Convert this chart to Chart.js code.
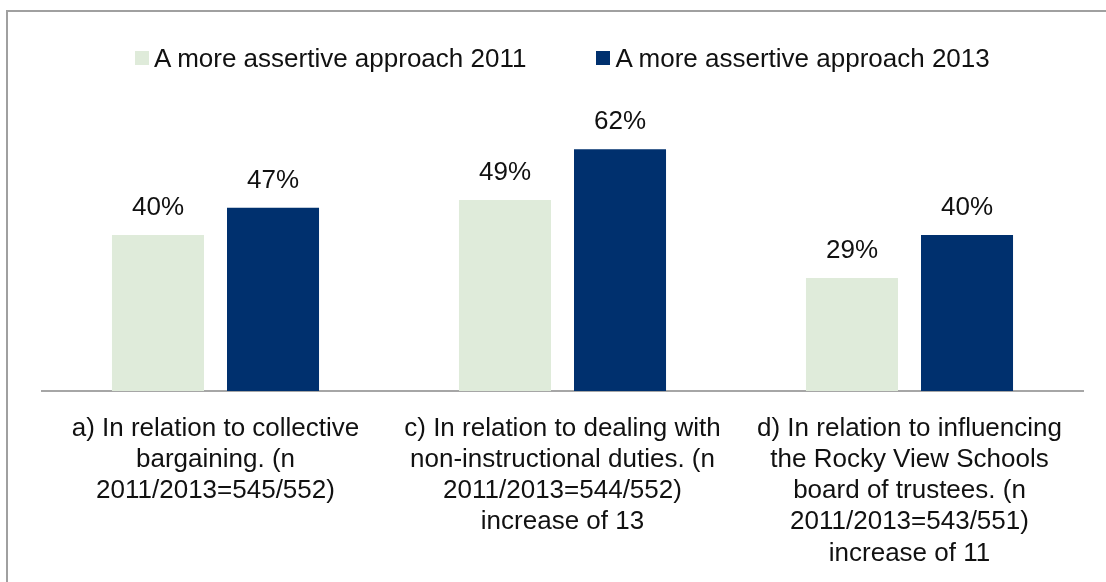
<!DOCTYPE html>
<html>
<head>
<meta charset="utf-8">
<script src="https://cdn.jsdelivr.net/npm/chart.js@4.4.1/dist/chart.umd.min.js"></script>
<style>
  html, body { margin: 0; padding: 0; background: #fff; overflow: hidden; }
  body { width: 1106px; height: 582px; position: relative; font-family: "Liberation Sans", Arial, sans-serif; }
  .marco { position: absolute; left: 6px; top: 10px; width: 1200px; height: 700px;
           border-left: 2px solid #a0a0a0; border-top: 2px solid #a0a0a0; box-sizing: border-box; }
  #leyenda { position: absolute; left: 135px; top: 43px; display: flex; align-items: center;
             font-size: 26px; color: #111; white-space: nowrap; }
  .item { display: flex; align-items: center; margin-right: 70px; height: 30px; }
  .cuadro { width: 14px; height: 14px; margin-right: 5px; }
  #grafico { position: absolute; left: 0; top: 0; }
</style>
</head>
<body>
<div class="marco"></div>
<canvas id="grafico" width="1106" height="582"></canvas>
<div id="leyenda"></div>
<script>
// Datos del gráfico
const categorias = [
  ['a) In relation to collective', 'bargaining. (n', '2011/2013=545/552)'],
  ['c) In relation to dealing with', 'non-instructional duties. (n', '2011/2013=544/552)', 'increase of 13'],
  ['d) In relation to influencing', 'the Rocky View Schools', 'board of trustees. (n', '2011/2013=543/551)', 'increase of 11']
];
const nombresSeries = ['A more assertive approach 2011', 'A more assertive approach 2013'];
const valores2011 = [40, 49, 29];
const valores2013 = [47, 62, 40];

const coloresSeries = ['#dfebda', '#00306e'];
const fuente = '"Liberation Sans", Arial, sans-serif';

/**
 * Dibuja el porcentaje encima de cada barra.
 */
const etiquetasBarras = {
  id: 'etiquetasBarras',
  afterDatasetsDraw(chart) {
    const ctx = chart.ctx;
    ctx.save();
    ctx.font = `26px ${fuente}`;
    ctx.fillStyle = '#111';
    ctx.textAlign = 'center';
    ctx.textBaseline = 'alphabetic';
    chart.data.datasets.forEach((ds, i) => {
      chart.getDatasetMeta(i).data.forEach((bar, j) => {
        ctx.fillText(`${ds.data[j]}%`, bar.x, bar.y - 20);
      });
    });
    ctx.restore();
  }
};

/**
 * Arma la leyenda en HTML a partir de los datasets.
 */
function crearLeyenda(chart) {
  const cont = document.getElementById('leyenda');
  cont.innerHTML = '';
  chart.data.datasets.forEach(ds => {
    const item = document.createElement('div');
    item.className = 'item';
    const cuadro = document.createElement('span');
    cuadro.className = 'cuadro';
    cuadro.style.background = ds.backgroundColor;
    const texto = document.createElement('span');
    texto.textContent = ds.label;
    item.appendChild(cuadro);
    item.appendChild(texto);
    cont.appendChild(item);
  });
}

const ctx = document.getElementById('grafico').getContext('2d');
const grafico = new Chart(ctx, {
  type: 'bar',
  data: {
    labels: categorias,
    datasets: [
      { label: nombresSeries[0], data: valores2011, backgroundColor: coloresSeries[0] },
      { label: nombresSeries[1], data: valores2013, backgroundColor: coloresSeries[1] }
    ]
  },
  options: {
    responsive: false,
    animation: false,
    categoryPercentage: 0.663,
    barPercentage: 0.8,
    layout: { padding: { left: 42, right: 23, top: 118, bottom: -9 } },
    plugins: {
      legend: { display: false },
      tooltip: { enabled: false }
    },
    scales: {
      x: {
        grid: { display: false, drawTicks: false },
        border: { display: true, color: '#a6a6a6', width: 2 },
        ticks: {
          padding: 22,
          color: '#111',
          maxRotation: 0,
          autoSkip: false,
          font: { family: fuente, size: 26, lineHeight: 1.2 }
        }
      },
      y: {
        display: false,
        min: 0,
        max: 70
      }
    }
  },
  plugins: [etiquetasBarras]
});

crearLeyenda(grafico);
</script>
</body>
</html>
